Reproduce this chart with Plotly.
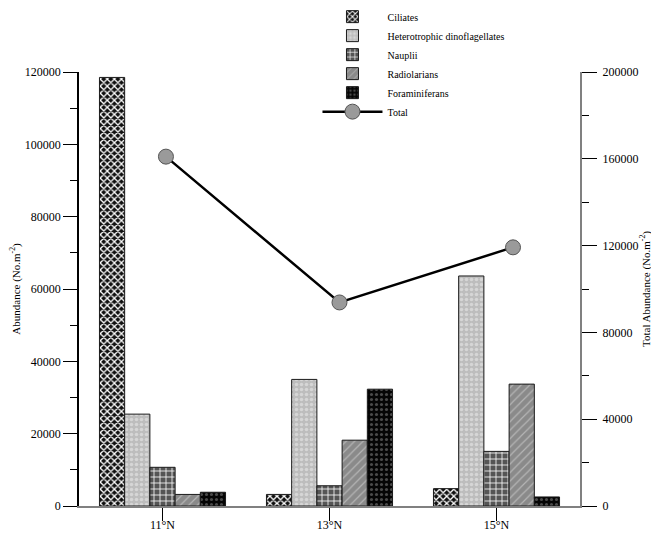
import plotly.graph_objects as go

sites = ["11°N", "13°N", "15°N"]
ciliates = [118500, 3200, 4800]
hetero_dino = [25400, 35000, 63600]
nauplii = [10700, 5600, 15100]
radiolarians = [3200, 18200, 33700]
foraminiferans = [3800, 32300, 2500]
total = [161000, 93800, 119200]

FONT = "Liberation Serif"

fig = go.Figure()

series = [
    ("Ciliates", ciliates, dict(shape="x", bgcolor="#111111", fgcolor="#ffffff", size=5, solidity=0.45, fillmode="replace")),
    ("Heterotrophic dinoflagellates", hetero_dino, dict(shape=".", bgcolor="#bdbdbd", fgcolor="#d6d6d6", size=5, solidity=0.4, fillmode="replace")),
    ("Nauplii", nauplii, dict(shape="+", bgcolor="#555555", fgcolor="#ffffff", size=6, solidity=0.25, fillmode="replace")),
    ("Radiolarians", radiolarians, dict(shape="/", bgcolor="#8a8a8a", fgcolor="#b5b5b5", size=6, solidity=0.2, fillmode="replace")),
    ("Foraminiferans", foraminiferans, dict(shape=".", bgcolor="#050505", fgcolor="#4a4a4a", size=5, solidity=0.3, fillmode="replace")),
]

for name, vals, pat in series:
    fig.add_trace(go.Bar(
        x=sites, y=vals, name=name,
        marker=dict(color=pat["bgcolor"], pattern=pat, line=dict(color="#1a1a1a", width=1)),
        xaxis="x", yaxis="y",
    ))

fig.add_trace(go.Scatter(
    x=sites, y=total, name="Total", mode="lines+markers",
    line=dict(color="black", width=2.5),
    marker=dict(size=15, color="#9a9a9a", line=dict(color="#555555", width=1)),
    xaxis="x2", yaxis="y2",
))

# page body has an 8px default margin, so the figure is sized 8px smaller
fig.update_layout(
    width=651, height=526,
    margin=dict(l=71, r=79, t=64, b=28, autoexpand=False),
    paper_bgcolor="white", plot_bgcolor="white",
    font=dict(family=FONT, size=12, color="black"),
    barmode="group", bargap=0.245, bargroupgap=0,
    showlegend=True,
    legend=dict(
        x=0.476, y=1.161, xanchor="left", yanchor="top",
        bgcolor="rgba(0,0,0,0)", font=dict(family=FONT, size=10, color="black"),
        traceorder="normal", itemwidth=60, tracegroupgap=0,
    ),
    xaxis=dict(
        type="category", range=[-0.5, 2.5],
        showline=True, linecolor="#808080", linewidth=2,
        ticks="outside", ticklen=13, tickcolor="black", tickwidth=1,
        showgrid=False, zeroline=False, ticklabelstandoff=-6,
        tickfont=dict(family=FONT, size=12, color="black"),
    ),
    xaxis2=dict(
        type="category", overlaying="x", range=[-0.501, 2.386],
        visible=False,
    ),
    yaxis=dict(
        range=[0, 120000], dtick=20000, tick0=0, tickformat="d",
        showline=True, linecolor="black", linewidth=1.5,
        ticks="outside", ticklen=14, tickcolor="black",
        minor=dict(dtick=10000, ticks="outside", ticklen=7, tickcolor="black"),
        showgrid=False, zeroline=False,
        tickfont=dict(family=FONT, size=12, color="black"),
        title=dict(text="Abundance (No.m<sup>-2</sup>)", font=dict(family=FONT, size=11, color="black"), standoff=2),
    ),
    yaxis2=dict(
        range=[0, 200000], dtick=40000, tick0=0, tickformat="d",
        overlaying="y", side="right",
        showline=True, linecolor="#808080", linewidth=2,
        ticks="outside", ticklen=15, tickcolor="black",
        minor=dict(dtick=20000, ticks="outside", ticklen=7, tickcolor="black"),
        showgrid=False, zeroline=False, ticklabelstandoff=3,
        tickfont=dict(family=FONT, size=12, color="black"),
        title=dict(text="Total Abundance (No.m<sup>-2</sup>)", font=dict(family=FONT, size=11, color="black"), standoff=4),
    ),
)

fig.write_html("out.html")
